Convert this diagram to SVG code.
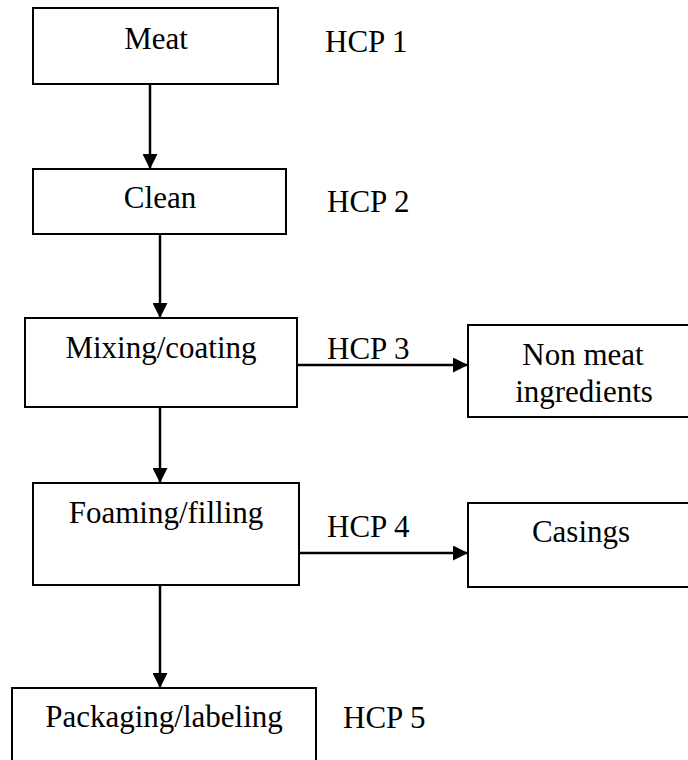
<svg xmlns="http://www.w3.org/2000/svg" width="688" height="760" viewBox="0 0 688 760">
  <style>
    .box { fill: #ffffff; stroke: #000000; stroke-width: 2; }
    .lbl { font-family: "Liberation Serif", "Times New Roman", serif; font-size: 31px; fill: #000000; }
    .mid { text-anchor: middle; }
    .edge { stroke: #000000; stroke-width: 2.5; fill: none; marker-end: url(#arrow); }
  </style>
  <defs>
    <marker id="arrow" markerUnits="userSpaceOnUse" markerWidth="15" markerHeight="15" refX="15" refY="7.5" orient="auto">
      <path d="M0,0 L15,7.5 L0,15 Z" fill="#000000"/>
    </marker>
  </defs>
  <rect width="688" height="760" fill="#ffffff"/>

  <!-- process steps -->
  <g id="meat">
    <rect class="box" x="33" y="8" width="245" height="76"/>
    <text class="lbl mid" x="156" y="49">Meat</text>
  </g>
  <g id="clean">
    <rect class="box" x="33" y="169" width="253" height="65"/>
    <text class="lbl mid" x="160" y="208">Clean</text>
  </g>
  <g id="mixing">
    <rect class="box" x="25" y="318" width="272" height="89"/>
    <text class="lbl mid" x="161" y="358">Mixing/coating</text>
  </g>
  <g id="non-meat">
    <rect class="box" x="468" y="325" width="240" height="92"/>
    <text class="lbl mid" x="583" y="365">Non meat</text>
    <text class="lbl mid" x="584" y="402">ingredients</text>
  </g>
  <g id="foaming">
    <rect class="box" x="33" y="483" width="266" height="102"/>
    <text class="lbl mid" x="166" y="523">Foaming/filling</text>
  </g>
  <g id="casings">
    <rect class="box" x="468" y="503" width="240" height="84"/>
    <text class="lbl mid" x="581" y="542">Casings</text>
  </g>
  <g id="packaging">
    <rect class="box" x="12" y="688" width="304" height="90"/>
    <text class="lbl mid" x="164" y="727">Packaging/labeling</text>
  </g>

  <!-- hazard control point labels -->
  <g id="hcp-labels">
    <text class="lbl" x="325" y="52">HCP 1</text>
    <text class="lbl" x="327" y="212">HCP 2</text>
    <text class="lbl" x="327" y="359">HCP 3</text>
    <text class="lbl" x="327" y="537">HCP 4</text>
    <text class="lbl" x="343" y="728">HCP 5</text>
  </g>

  <!-- flow connectors -->
  <g id="connectors">
    <line class="edge" x1="150" y1="85" x2="150" y2="169"/>
    <line class="edge" x1="160" y1="235" x2="160" y2="318"/>
    <line class="edge" x1="160" y1="408" x2="160" y2="483"/>
    <line class="edge" x1="160" y1="586" x2="160" y2="688"/>
    <line class="edge" x1="298" y1="365" x2="468" y2="365"/>
    <line class="edge" x1="300" y1="553" x2="468" y2="553"/>
  </g>
</svg>
